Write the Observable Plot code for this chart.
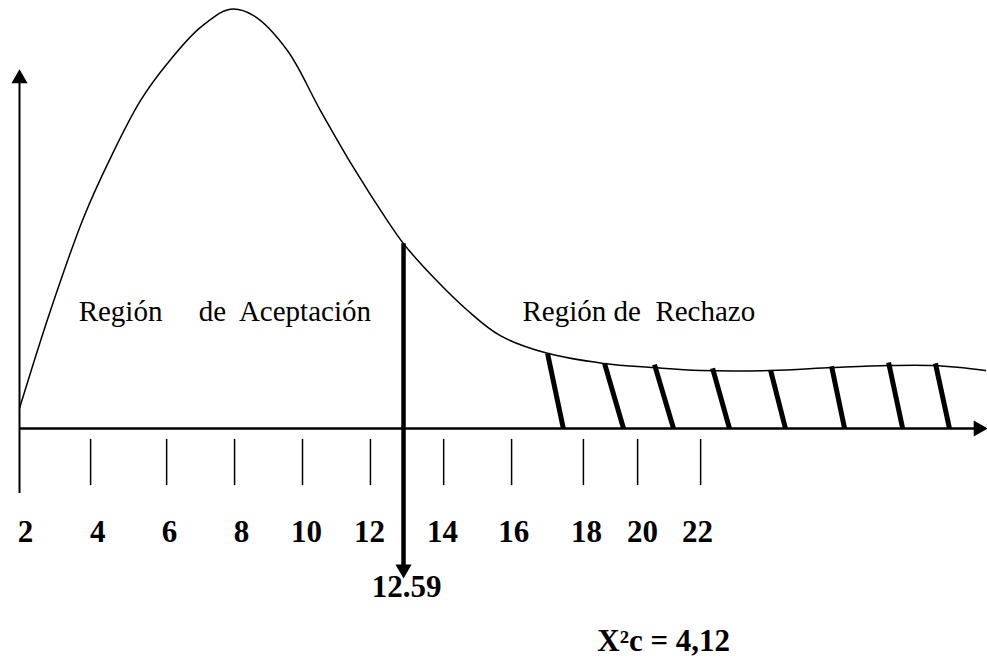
<!DOCTYPE html>
<html>
<head>
<meta charset="utf-8">
<script src="https://cdn.jsdelivr.net/npm/d3@7"></script>
<script src="https://cdn.jsdelivr.net/npm/@observablehq/plot@0.6"></script>
<style>
  html, body { margin: 0; padding: 0; background: #fff; }
  #chart svg { display: block; background: #fff; }
</style>
</head>
<body>
<div id="chart"></div>
<script>
// Chi-square density curve (x in chi-square units, y in relative height 0..100)
const curveX = [2.0, 2.88, 3.82, 4.59, 5.44, 6.20, 7.14, 7.99, 8.65, 9.61, 10.55, 11.49, 12.45, 12.91, 13.76, 14.73, 15.66, 17.0, 18.59, 20.01, 21.35, 23.33, 25.10, 26.69, 27.97, 28.73, 29.44];
const curveY = [4.8, 28.1, 50.2, 64.5, 78.1, 86.9, 95.5, 99.8, 98.3, 90.0, 75.7, 62.1, 49.5, 44.0, 36.0, 28.1, 22.1, 17.9, 15.5, 14.5, 13.8, 13.8, 14.5, 15.0, 15.0, 14.5, 13.8];

// Axis tick marks (as drawn) and their labels
const tickLabels = ["2", "4", "6", "8", "10", "12", "14", "16", "18", "20", "22"];
const tickMarks = [4.02, 6.18, 8.11, 10.04, 11.97, 14.05, 15.98, 18.02, 19.56, 21.35];
const tickLabelPos = [2.17, 4.22, 6.26, 8.31, 10.15, 11.94, 14.02, 16.04, 18.11, 19.70, 21.26];

// Rejection-region hatching strokes
const hatchTopX = [17.0, 18.62, 20.04, 21.69, 23.34, 25.07, 26.69, 28.02];
const hatchTopY = [17.9, 15.5, 15.2, 14.3, 13.8, 14.8, 15.7, 15.5];
const hatchBottomX = [17.45, 19.16, 20.58, 22.17, 23.76, 25.44, 27.09, 28.42];

// Critical value and annotations
const critLabel = "12.59";
const critPos = 12.91;
const critTop = 44.0;
const statLabel = "X\u00B2c = 4,12";
const regionLabels = ["Región\u00A0\u00A0\u00A0\u00A0 de\u00A0 Aceptación", "Región de\u00A0 Rechazo"];
const regionPos = [3.68, 16.29];

const curve = curveX.map((x, i) => ({x, y: curveY[i]}));
const hatches = hatchTopX.map((x, i) => ({x1: x, y1: hatchTopY[i], x2: hatchBottomX[i], y2: 0}));
const ticks = tickLabels.map((t, i) => ({label: t, x: tickLabelPos[i]}));
const regions = regionLabels.map((t, i) => ({label: t, x: regionPos[i]}));
const xEnd = 29.24;
const heads = [
  {x: 2, y: 83.3, rot: 0},
  {x: xEnd, y: 0, rot: 90},
  {x: critPos, y: -33.5, rot: 180}
];

const serif = "Liberation Serif";

const chart = Plot.plot({
  width: 987,
  height: 659,
  marginLeft: 19,
  marginRight: 0,
  marginTop: 8,
  marginBottom: 231,
  x: {type: "linear", domain: [2, 29.5], axis: null},
  y: {type: "linear", domain: [0, 100], axis: null},
  style: {background: "#fff", color: "#000"},
  marks: [
    // axes
    Plot.ruleY([0], {x1: 2, x2: xEnd, stroke: "#000", strokeWidth: 2.5}),
    Plot.ruleX([2], {y1: -15.5, y2: 83, stroke: "#000", strokeWidth: 2}),
    // tick marks below the axis
    Plot.ruleX(tickMarks, {y1: -2.6, y2: -13.6, stroke: "#000", strokeWidth: 1.5}),
    // density curve
    Plot.line(curve, {x: "x", y: "y", curve: "catmull-rom", stroke: "#000", strokeWidth: 1.5}),
    // hatching of the rejection region
    Plot.link(hatches, {x1: "x1", y1: "y1", x2: "x2", y2: "y2", stroke: "#000", strokeWidth: 5}),
    // critical value line
    Plot.ruleX([critPos], {y1: critTop, y2: -33.5, stroke: "#000", strokeWidth: 4.5}),
    // arrowheads
    Plot.dot(heads, {x: "x", y: "y", rotate: "rot", symbol: "triangle", r: 6, fill: "#000", stroke: "none"}),
    // tick labels
    Plot.text(ticks, {x: "x", y: -27.1, text: "label", lineAnchor: "bottom", fontFamily: serif, fontWeight: "bold", fontSize: 31, fill: "#000"}),
    // region labels
    Plot.text(regions, {x: "x", y: 25.5, text: "label", textAnchor: "start", lineAnchor: "bottom", fontFamily: serif, fontSize: 29, fill: "#000"}),
    // critical value label
    Plot.text([critLabel], {x: 13.0, y: -40.2, text: d => d, lineAnchor: "bottom", fontFamily: serif, fontWeight: "bold", fontSize: 31, fill: "#000"}),
    // statistic label
    Plot.text([statLabel], {x: 20.3, y: -52.9, text: d => d, lineAnchor: "bottom", fontFamily: serif, fontWeight: "bold", fontSize: 31, fill: "#000"})
  ]
});

document.getElementById("chart").appendChild(chart);
</script>
</body>
</html>
